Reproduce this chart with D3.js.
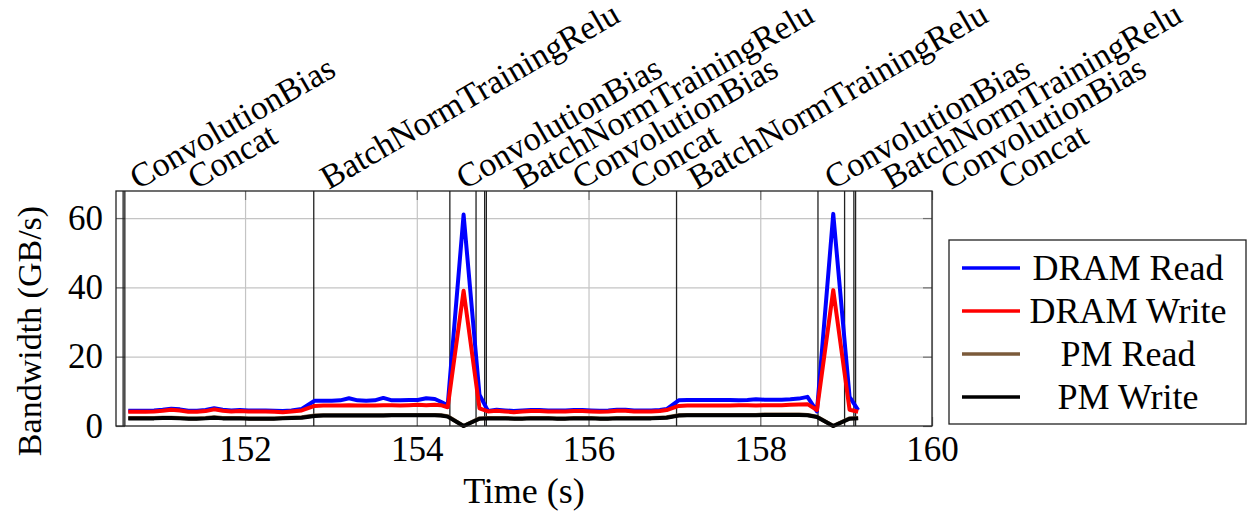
<!DOCTYPE html>
<html>
<head>
<meta charset="utf-8">
<script src="https://cdn.jsdelivr.net/npm/d3@7/dist/d3.min.js"></script>
<style>
body { margin: 0; background: #fff; }
text { font-family: "Liberation Serif", "DejaVu Serif", serif; fill: #000; }
</style>
</head>
<body>
<div id="chart"></div>
<script>
// sample times (s)
const times = [
    150.64, 150.74, 150.84, 150.94, 151.04, 151.14, 151.24, 151.34, 151.44, 151.54, 151.64,
    151.74, 151.84, 151.94, 152.04, 152.14, 152.24, 152.34, 152.44, 152.54, 152.66,
    152.81, 152.91, 153.01, 153.11, 153.21, 153.31, 153.41, 153.51, 153.61, 153.71, 153.81,
    153.91, 154.01, 154.11, 154.21, 154.28,
    154.36, 154.545, 154.73, 154.83,
    154.93, 155.03, 155.13, 155.23, 155.33, 155.43, 155.53, 155.63, 155.73, 155.83, 155.93,
    156.03, 156.13, 156.23, 156.33, 156.43, 156.53, 156.63, 156.73, 156.83, 156.91,
    157.05, 157.15, 157.25, 157.35, 157.45, 157.55, 157.65, 157.75, 157.85, 157.95, 158.05,
    158.15, 158.25, 158.35, 158.45, 158.55,
    158.66, 158.85, 159.04, 159.14
];

const dramRead = [
    4.4, 4.4, 4.4, 4.5, 4.7, 5.0, 4.8, 4.4, 4.4, 4.6, 5.1,
    4.7, 4.5, 4.6, 4.5, 4.5, 4.5, 4.4, 4.3, 4.5, 4.9,
    7.3, 7.3, 7.3, 7.4, 8.0, 7.4, 7.3, 7.4, 8.1, 7.4, 7.4,
    7.5, 7.5, 8.0, 7.8, 7.0,
    6.0, 61.0, 9.0, 4.3,
    4.7, 4.5, 4.3, 4.5, 4.6, 4.6, 4.5, 4.5, 4.5, 4.6, 4.6,
    4.5, 4.4, 4.5, 4.7, 4.7, 4.5, 4.5, 4.5, 4.6, 4.9,
    7.4, 7.5, 7.5, 7.5, 7.5, 7.5, 7.5, 7.4, 7.5, 7.7, 7.6,
    7.6, 7.6, 7.7, 7.9, 8.4,
    4.2, 61.2, 8.4, 4.6
];

const dramWrite = [
    4.1, 4.1, 4.1, 4.2, 4.4, 4.7, 4.5, 4.1, 4.1, 4.3, 4.8,
    4.4, 4.2, 4.3, 4.2, 4.2, 4.2, 4.1, 4.0, 4.2, 4.5,
    5.8, 5.9, 5.9, 5.9, 6.0, 5.9, 5.9, 5.9, 6.0, 6.0, 5.9,
    6.0, 6.1, 6.0, 6.1, 6.0,
    5.4, 39.0, 5.1, 4.2,
    4.4, 4.2, 4.0, 4.2, 4.3, 4.3, 4.2, 4.2, 4.2, 4.3, 4.3,
    4.2, 4.1, 4.2, 4.4, 4.4, 4.2, 4.2, 4.2, 4.3, 4.6,
    5.8, 5.9, 5.9, 5.9, 5.9, 5.9, 5.9, 6.0, 6.0, 5.9, 6.0,
    6.0, 6.0, 6.1, 6.2, 6.3,
    4.6, 39.2, 4.7, 4.1
];

const pmRead = [
    2.3, 2.3, 2.3, 2.3, 2.4, 2.4, 2.3, 2.2, 2.2, 2.3, 2.5,
    2.3, 2.3, 2.3, 2.2, 2.2, 2.2, 2.2, 2.3, 2.4, 2.5,
    3.0, 3.1, 3.1, 3.1, 3.1, 3.1, 3.1, 3.1, 3.1, 3.2, 3.2,
    3.2, 3.2, 3.2, 3.2, 3.1,
    2.8, 0.0, 2.2, 2.3,
    2.3, 2.3, 2.2, 2.2, 2.3, 2.3, 2.3, 2.2, 2.2, 2.3, 2.3,
    2.3, 2.2, 2.2, 2.3, 2.3, 2.3, 2.3, 2.3, 2.4, 2.5,
    3.1, 3.2, 3.2, 3.2, 3.2, 3.2, 3.2, 3.2, 3.2, 3.2, 3.3,
    3.3, 3.3, 3.3, 3.3, 3.2,
    2.7, 0.0, 2.2, 2.3
];

const pmWrite = [
    2.2, 2.2, 2.2, 2.2, 2.3, 2.3, 2.2, 2.1, 2.1, 2.2, 2.4,
    2.2, 2.2, 2.2, 2.1, 2.1, 2.1, 2.1, 2.2, 2.3, 2.4,
    2.9, 3.0, 3.0, 3.0, 3.0, 3.0, 3.0, 3.0, 3.0, 3.1, 3.1,
    3.1, 3.1, 3.1, 3.1, 3.0,
    2.7, 0.0, 2.1, 2.2,
    2.2, 2.2, 2.1, 2.1, 2.2, 2.2, 2.2, 2.1, 2.1, 2.2, 2.2,
    2.2, 2.1, 2.1, 2.2, 2.2, 2.2, 2.2, 2.2, 2.3, 2.4,
    3.0, 3.1, 3.1, 3.1, 3.1, 3.1, 3.1, 3.1, 3.1, 3.1, 3.2,
    3.2, 3.2, 3.2, 3.2, 3.1,
    2.6, 0.0, 2.1, 2.2
];

// kernel start markers
const eventTimes = [150.58, 150.60, 152.80, 154.385, 154.69, 154.79, 154.81, 157.025, 158.672, 158.982, 159.09, 159.11];
const eventNames = [
    "ConvolutionBias", "Concat", "BatchNormTrainingRelu", "ConvolutionBias",
    "BatchNormTrainingRelu", "ConvolutionBias", "Concat", "BatchNormTrainingRelu",
    "ConvolutionBias", "BatchNormTrainingRelu", "ConvolutionBias", "Concat"
];

const xTicks = [152, 154, 156, 158, 160];
const yTicks = [0, 20, 40, 60];
const seriesNames = ["DRAM Read", "DRAM Write", "PM Read", "PM Write"];
const seriesColors = ["#0000ff", "#ff0000", "#7b5a3a", "#000000"];

const W = 1247, H = 517;
const plot = { left: 116, right: 932, top: 191, bottom: 426 };

const svg = d3.select("#chart").append("svg")
    .attr("width", W)
    .attr("height", H);

const x = d3.scaleLinear().domain([150.497, 160]).range([plot.left, plot.right]);
const y = d3.scaleLinear().domain([0, 67.8]).range([plot.bottom, plot.top]);

// grid
const grid = svg.append("g").attr("class", "grid");
grid.append("g")
    .attr("transform", "translate(0," + plot.bottom + ")")
    .call(d3.axisBottom(x).tickValues(xTicks).tickSize(-(plot.bottom - plot.top)).tickFormat(""));
grid.append("g")
    .attr("transform", "translate(" + plot.left + ",0)")
    .call(d3.axisLeft(y).tickValues(yTicks.slice(1)).tickSize(-(plot.right - plot.left)).tickFormat(""));
grid.selectAll(".domain").remove();
grid.selectAll("line").attr("stroke", "#c4c4c4").attr("stroke-width", 1.2);

// inner tick marks + labels
const ticks = svg.append("g").attr("class", "ticks");
ticks.append("g")
    .attr("transform", "translate(0," + plot.bottom + ")")
    .call(d3.axisBottom(x).tickValues(xTicks).tickSize(-9).tickPadding(10));
ticks.append("g")
    .attr("transform", "translate(0," + plot.top + ")")
    .call(d3.axisTop(x).tickValues(xTicks).tickSize(-9).tickFormat(""));
ticks.append("g")
    .attr("transform", "translate(" + plot.left + ",0)")
    .call(d3.axisLeft(y).tickValues(yTicks).tickSize(-9).tickPadding(13));
ticks.append("g")
    .attr("transform", "translate(" + plot.right + ",0)")
    .call(d3.axisRight(y).tickValues(yTicks).tickSize(-9).tickFormat(""));
ticks.selectAll(".domain").remove();
ticks.selectAll("line").attr("stroke", "#707070").attr("stroke-width", 1.2);
ticks.selectAll("text")
    .attr("fill", "#000")
    .style("font-family", "Liberation Serif")
    .style("font-size", "35px");

// event lines
svg.append("g").selectAll("line")
    .data(eventTimes)
    .enter().append("line")
    .attr("x1", function(d) { return x(d); })
    .attr("x2", function(d) { return x(d); })
    .attr("y1", plot.top)
    .attr("y2", plot.bottom)
    .attr("stroke", "#222")
    .attr("stroke-width", 1.3);

// series
const series = [dramRead, dramWrite, pmRead, pmWrite];
const line = d3.line()
    .x(function(d, i) { return x(times[i]); })
    .y(function(d) { return y(d); });

svg.append("g")
    .selectAll("path")
    .data(series)
    .enter().append("path")
    .attr("d", line)
    .attr("fill", "none")
    .attr("stroke", function(d, i) { return seriesColors[i]; })
    .attr("stroke-width", 4)
    .attr("stroke-linejoin", "round");

// frame
svg.append("rect")
    .attr("x", plot.left).attr("y", plot.top)
    .attr("width", plot.right - plot.left)
    .attr("height", plot.bottom - plot.top)
    .attr("fill", "none")
    .attr("stroke", "#222")
    .attr("stroke-width", 1.3);

// rotated event labels, staggered so they do not collide
let lastX = -1e9;
const labelPos = eventTimes.map(function(t) {
    const lx = Math.max(x(t) + 15, lastX + 58);
    lastX = lx;
    return lx;
});
svg.append("g").selectAll("text")
    .data(eventNames)
    .enter().append("text")
    .attr("transform", function(d, i) {
        return "translate(" + labelPos[i] + "," + (plot.top - 1) + ") rotate(-30)";
    })
    .style("font-size", "34px")
    .text(function(d) { return d; });

// axis titles
svg.append("text")
    .attr("x", (plot.left + plot.right) / 2)
    .attr("y", 503)
    .attr("text-anchor", "middle")
    .style("font-size", "36px")
    .text("Time (s)");

svg.append("text")
    .attr("transform", "translate(41,331) rotate(-90)")
    .attr("text-anchor", "middle")
    .style("font-size", "34px")
    .text("Bandwidth (GB/s)");

// legend
const legend = svg.append("g").attr("class", "legend");
legend.append("rect")
    .attr("x", 949).attr("y", 240)
    .attr("width", 297).attr("height", 184)
    .attr("fill", "#fff")
    .attr("stroke", "#222")
    .attr("stroke-width", 1.3);

const rows = legend.selectAll(".row")
    .data(seriesNames)
    .enter().append("g")
    .attr("class", "row")
    .attr("transform", function(d, i) { return "translate(0," + (268 + i * 43) + ")"; });
rows.append("line")
    .attr("x1", 962).attr("x2", 1020)
    .attr("stroke", function(d, i) { return seriesColors[i]; })
    .attr("stroke-width", 3.5);
rows.append("text")
    .attr("x", 1128)
    .attr("y", 12)
    .attr("text-anchor", "middle")
    .style("font-size", "36px")
    .text(function(d) { return d; });
</script>
</body>
</html>
